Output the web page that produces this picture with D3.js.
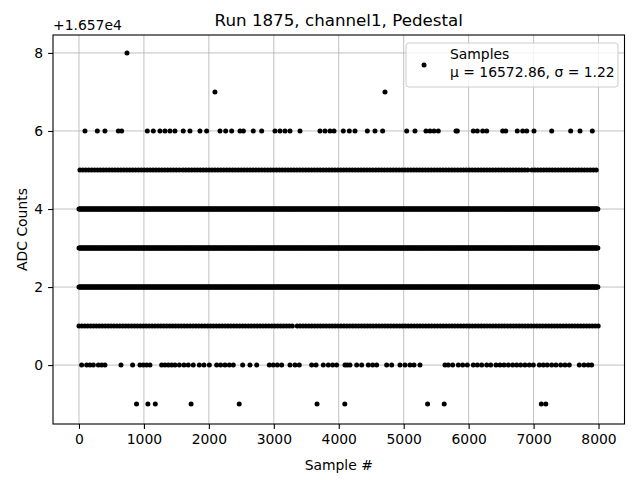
<!DOCTYPE html>
<meta charset="utf-8">
<style>
body { margin: 0; background: #fff; }
svg { display: block; font-family: "DejaVu Sans", sans-serif; }
.grid line { stroke: #b0b0b0; stroke-width: 0.8px; }
.axis text { font-size: 13.9px; fill: #000; }
.axis path, .axis line { stroke: #000; stroke-width: 1.1px; }
</style>
<svg width="640" height="480" id="chart"></svg>
<script src="https://d3js.org/d3.v7.min.js"></script>
<script>
// pedestal run: samples sit on integer ADC levels, shown as offset from 16570
var titleText = "Run 1875, channel1, Pedestal";
var offsetText = "+1.657e4";
var legendLabel = "Samples";
var legendStats = "\u03bc = 16572.86, \u03c3 = 1.22";

var xTicks = [0, 1000, 2000, 3000, 4000, 5000, 6000, 7000, 8000];
var yTicks = [0, 2, 4, 6, 8];

// rare levels: sample numbers
var level8 = [739];
var level7 = [2094, 4712];
var level6 = [92, 282, 400, 606, 657, 1052, 1145, 1247, 1324, 1401, 1478, 1606, 1709, 1863, 1966,
  2171, 2259, 2351, 2479, 2531, 2684, 2813, 3018, 3095, 3172, 3249, 3403, 3711, 3788, 3865, 3927,
  4070, 4163, 4250, 4440, 4558, 4676, 5046, 5174, 5343, 5405, 5467, 5533, 5805, 5826,
  6072, 6134, 6216, 6278, 6524, 6571, 6749, 6832, 6894, 7006, 7279, 7571, 7715, 7904];
var level0 = [41, 118, 169, 221, 298, 349, 400, 647, 826, 939, 990, 1042, 1093, 1273, 1324, 1376,
  1427, 1478, 1545, 1617, 1683, 1760, 1853, 1925, 2007, 2120, 2182, 2248, 2315, 2376, 2520, 2633,
  2736, 2931, 2992, 3054, 3121, 3249, 3326, 3392, 3583, 3650, 3762, 3839, 3906, 3968, 4096, 4132,
  4173, 4276, 4353, 4455, 4522, 4584, 4738, 4815, 4943, 5020, 5097, 5159, 5251, 5636, 5687, 5754,
  5841, 5908, 5980, 6072, 6134, 6201, 6278, 6340, 6421, 6483, 6545, 6611, 6678, 6740, 6801, 6868,
  6934, 6996, 7088, 7150, 7211, 7279, 7345, 7417, 7484, 7550, 7704, 7776, 7842, 7894];
var levelM1 = [886, 1061, 1175, 1726, 2467, 3666, 4093, 5368, 5624, 7119, 7188];

// busy levels: too dense to read one by one, kept as covered sample ranges
var level5Spans = [[15, 1550], [1600, 6915], [6975, 7995]];
var level4Spans = [[0, 7999]];
var level3Spans = [[0, 7999]];
var level2Spans = [[0, 7999]];
var level1Spans = [[0, 3300], [3360, 7995]];

var svg = d3.select("#chart");
var plotL = 53, plotR = 624.5, plotT = 35, plotB = 424;

var x = d3.scaleLinear().domain([-400, 8400]).range([plotL, plotR]);
var y = d3.scaleLinear().domain([-1.51, 8.46]).range([plotB, plotT]);

// gather points
var pts = [];
function addList(list, v) { list.forEach(function(s) { pts.push([s, v]); }); }
function addSpans(spans, v, step) {
  spans.forEach(function(sp) {
    for (var s = sp[0]; s <= sp[1]; s += step) pts.push([s, v]);
  });
}
addSpans(level2Spans, 2, 10);
addSpans(level3Spans, 3, 10);
addSpans(level4Spans, 4, 10);
addSpans(level1Spans, 1, 45);
addSpans(level5Spans, 5, 45);
addList(level0, 0);
addList(level6, 6);
addList(levelM1, -1);
addList(level7, 7);
addList(level8, 8);

// grid
var grid = svg.append("g").attr("class", "grid");
grid.selectAll(".gx").data(xTicks).enter().append("line")
  .attr("x1", function(d) { return x(d); }).attr("x2", function(d) { return x(d); })
  .attr("y1", plotT).attr("y2", plotB);
grid.selectAll(".gy").data(yTicks).enter().append("line")
  .attr("y1", function(d) { return y(d); }).attr("y2", function(d) { return y(d); })
  .attr("x1", plotL).attr("x2", plotR);

// points
svg.append("g").selectAll("circle").data(pts).enter().append("circle")
  .attr("cx", function(d) { return x(d[0]); })
  .attr("cy", function(d) { return y(d[1]); })
  .attr("r", 2.5)
  .attr("fill", "#000");

// axes
var xAxis = svg.append("g").attr("class", "axis")
  .attr("transform", "translate(0," + plotB + ")")
  .call(d3.axisBottom(x).tickValues(xTicks).tickSize(4.9).tickPadding(4.9).tickFormat(d3.format("d")));
var yAxis = svg.append("g").attr("class", "axis")
  .attr("transform", "translate(" + plotL + ",0)")
  .call(d3.axisLeft(y).tickValues(yTicks).tickSize(4.9).tickPadding(4.9).tickFormat(d3.format("d")));
xAxis.select(".domain").remove();
yAxis.select(".domain").remove();
xAxis.selectAll("text").attr("font-family", "DejaVu Sans").attr("font-size", 13.9);
yAxis.selectAll("text").attr("font-family", "DejaVu Sans").attr("font-size", 13.9);

// frame
svg.append("rect").attr("x", plotL).attr("y", plotT)
  .attr("width", plotR - plotL).attr("height", plotB - plotT)
  .attr("fill", "none").attr("stroke", "#000").attr("stroke-width", 1.1);

// texts
svg.append("text").attr("x", (plotL + plotR) / 2).attr("y", 26)
  .attr("text-anchor", "middle").attr("font-size", 16.7).text(titleText);
svg.append("text").attr("x", plotL).attr("y", 30)
  .attr("font-size", 13.9).text(offsetText);
svg.append("text").attr("x", (plotL + plotR) / 2).attr("y", 470)
  .attr("text-anchor", "middle").attr("font-size", 13.9).text("Sample #");
svg.append("text").attr("transform", "translate(27," + ((plotT + plotB) / 2) + ") rotate(-90)")
  .attr("text-anchor", "middle").attr("font-size", 13.9).text("ADC Counts");

// legend
var lg = svg.append("g");
lg.append("rect").attr("x", 406).attr("y", 43).attr("width", 212).attr("height", 44)
  .attr("rx", 3).attr("fill", "#fff").attr("fill-opacity", 0.8)
  .attr("stroke", "#ccc").attr("stroke-width", 1);
lg.append("circle").attr("cx", 424).attr("cy", 65).attr("r", 2.5).attr("fill", "#000");
lg.append("text").attr("x", 450).attr("y", 58.5).attr("font-size", 13.9).text(legendLabel);
lg.append("text").attr("x", 450).attr("y", 76.5).attr("font-size", 13.9).text(legendStats);
</script>
